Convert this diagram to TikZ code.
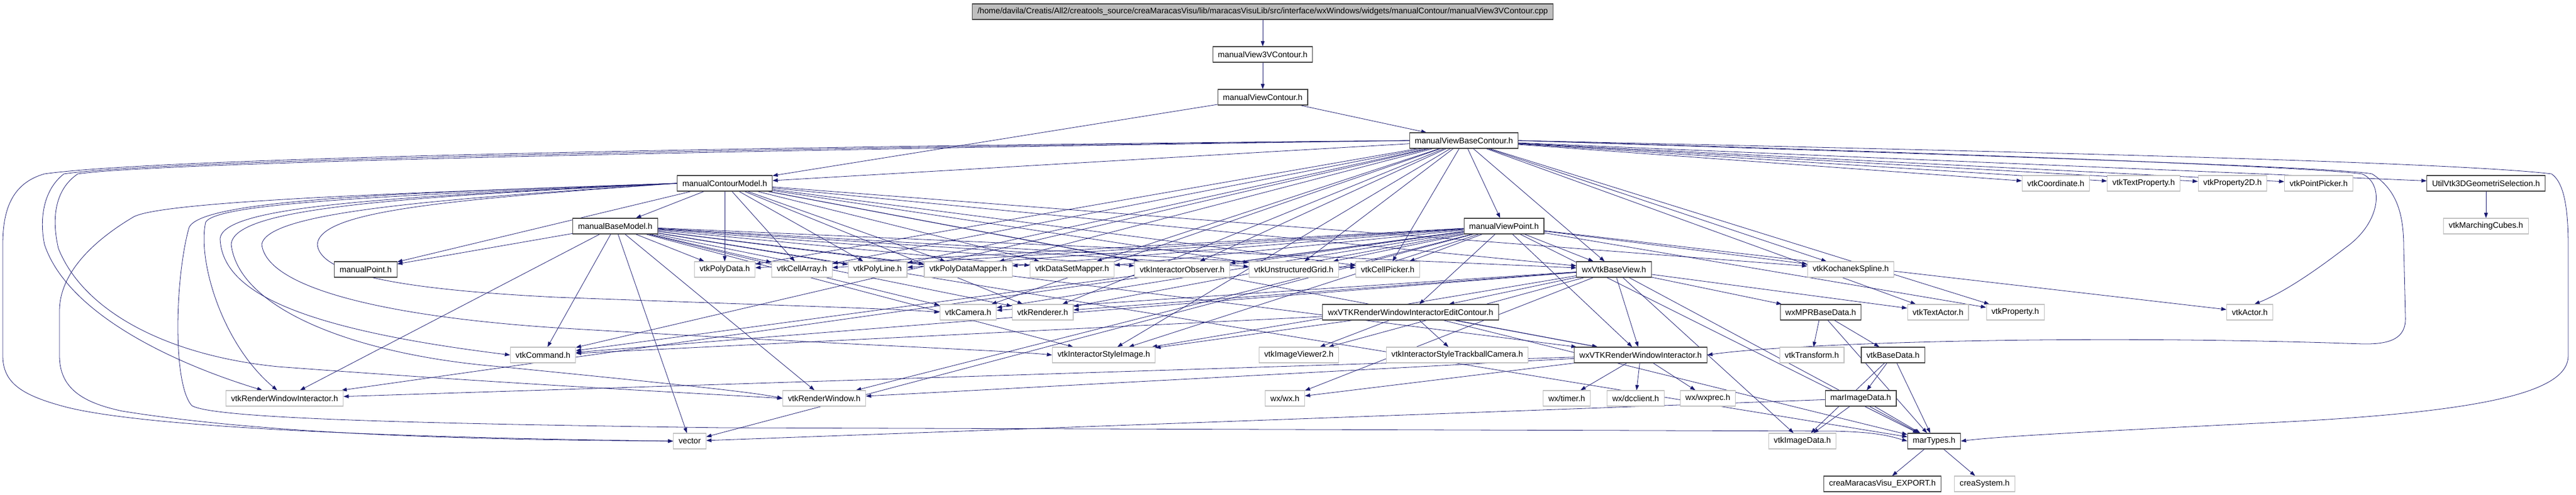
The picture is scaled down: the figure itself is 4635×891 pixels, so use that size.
\documentclass[tikz,border=0pt]{standalone}
\usepackage{fontspec}
\setmainfont{Liberation Sans}
\usetikzlibrary{arrows.meta,backgrounds}
\definecolor{edgeblue}{HTML}{191970}
\definecolor{boxgray}{HTML}{BFBFBF}
\tikzset{
  hdr/.style={draw=black!75, fill=white, line width=0.8pt, minimum height=21pt,
    inner xsep=7pt, inner ysep=0pt, font=\fontsize{11}{13}\selectfont},
  ext/.style={hdr, draw=boxgray},
  src/.style={hdr, fill=boxgray},
  dep/.style={draw=edgeblue, line width=0.6pt, -{Triangle[length=7pt,width=5pt]}},
}
\begin{document}
\begin{tikzpicture}[x=0.75pt,y=-0.75pt]
		\useasboundingbox (0,0) rectangle (4635,891);
		% top of the graph
		\node[src] (cpp) at (2272,21) {/home/davila/Creatis/All2/creatools\_source/creaMaracasVisu/lib/maracasVisuLib/src/interface/wxWindows/widgets/manualContour/manualView3VContour.cpp};
		\node[hdr] (vthree) at (2272,98) {manualView3VContour.h};
		\node[hdr] (vcont) at (2272,175) {manualViewContour.h};
		\node[hdr] (vbase) at (2634,253) {manualViewBaseContour.h};
		% rank 4
		\node[hdr] (cmodel) at (1304,330) {manualContourModel.h};
		\node[ext] (coord) at (3699,330) {vtkCoordinate.h};
		\node[ext] (tprop) at (3857,330) {vtkTextProperty.h};
		\node[ext] (prop2d) at (4017,330) {vtkProperty2D.h};
		\node[ext] (ppicker) at (4172,330) {vtkPointPicker.h};
		\node[hdr] (geosel) at (4473,330) {UtilVtk3DGeometriSelection.h};
		% rank 5
		\node[hdr] (bmodel) at (1107,407) {manualBaseModel.h};
		\node[hdr] (vpoint) at (2706,407) {manualViewPoint.h};
		\node[ext] (mcubes) at (4473,407) {vtkMarchingCubes.h};
		% rank 6
		\node[hdr] (mpoint) at (658,485) {manualPoint.h};
		\node[ext] (polydata) at (1304,485) {vtkPolyData.h};
		\node[ext] (cellarr) at (1443,485) {vtkCellArray.h};
		\node[ext] (polyline) at (1579,485) {vtkPolyLine.h};
		\node[ext] (pdmapper) at (1742,485) {vtkPolyDataMapper.h};
		\node[ext] (dsmapper) at (1929,485) {vtkDataSetMapper.h};
		\node[ext] (iobs) at (2127,485) {vtkInteractorObserver.h};
		\node[ext] (ugrid) at (2328,485) {vtkUnstructuredGrid.h};
		\node[ext] (cpicker) at (2497,485) {vtkCellPicker.h};
		\node[hdr] (baseview) at (2904,485) {wxVtkBaseView.h};
		\node[ext] (kspline) at (3330,485) {vtkKochanekSpline.h};
		% rank 7
		\node[ext] (camera) at (1742,562) {vtkCamera.h};
		\node[ext] (renderer) at (1876,562) {vtkRenderer.h};
		\node[hdr] (editc) at (2538,562) {wxVTKRenderWindowInteractorEditContour.h};
		\node[hdr] (mprbase) at (3276,562) {wxMPRBaseData.h};
		\node[ext] (tactor) at (3487,562) {vtkTextActor.h};
		\node[ext] (vprop) at (3626,562) {vtkProperty.h};
		\node[ext] (actor) at (4048,562) {vtkActor.h};
		% rank 8
		\node[ext] (command) at (977,639) {vtkCommand.h};
		\node[ext] (styleimg) at (1986,639) {vtkInteractorStyleImage.h};
		\node[ext] (viewer) at (2337,639) {vtkImageViewer2.h};
		\node[ext] (trackball) at (2622,639) {vtkInteractorStyleTrackballCamera.h};
		\node[hdr] (wxrwi) at (2952,639) {wxVTKRenderWindowInteractor.h};
		\node[ext] (transform) at (3260,639) {vtkTransform.h};
		\node[hdr] (basedata) at (3406,639) {vtkBaseData.h};
		% rank 9
		\node[ext] (rwi) at (512,717) {vtkRenderWindowInteractor.h};
		\node[ext] (rwin) at (1483,717) {vtkRenderWindow.h};
		\node[ext] (wxh) at (2312,717) {wx/wx.h};
		\node[ext] (timer) at (2819,717) {wx/timer.h};
		\node[ext] (dcclient) at (2943,717) {wx/dcclient.h};
		\node[ext] (wxprec) at (3073,717) {wx/wxprec.h};
		\node[hdr] (marimg) at (3348,717) {marImageData.h};
		% rank 10
		\node[ext] (vector) at (1241,794) {vector};
		\node[ext] (imgdata) at (3243,794) {vtkImageData.h};
		\node[hdr] (martypes) at (3480,794) {marTypes.h};
		% rank 11
		\node[hdr] (export) at (3387,871) {creaMaracasVisu\_EXPORT.h};
		\node[ext] (crsys) at (3571,871) {creaSystem.h};
		
		\begin{scope}[on background layer]
		% include chain
		\draw[dep] (cpp) -- (vthree);
		\draw[dep] (vthree) -- (vcont);
		\draw[dep] (vcont) -- (vbase);
		\draw[dep] (vcont) -- (cmodel);
		\draw[dep] (geosel) -- (mcubes);
		% manualViewBaseContour.h
		\foreach \t in {cmodel,vpoint,coord,tprop,prop2d,ppicker,geosel,baseview,polydata,cellarr,polyline,pdmapper,dsmapper,iobs,ugrid,cpicker,kspline,camera,renderer,styleimg,command,tactor,vprop}
		\draw[dep] (vbase) -- (\t);
		% round the left side
		\draw[dep] (vbase.west) .. controls (1500,262) and (300,282) .. (80,313) .. controls (20,330) and (5,380) .. (5,440) -- (5,640) .. controls (5,690) and (40,712) .. (120,733) .. controls (300,778) and (900,790) .. (vector.west);
		\draw[dep] (vbase.west) .. controls (1500,265) and (300,286) .. (115,313) .. controls (80,340) and (70,390) .. (80,440) .. controls (120,560) and (300,650) .. ([xshift=-30pt]rwi.north);
		\draw[dep] (vbase.west) .. controls (1500,268) and (300,290) .. (140,313) .. controls (100,340) and (92,390) .. (105,447) .. controls (150,560) and (300,640) .. (500,660) .. controls (900,690) and (1200,705) .. (rwin.west);
		% round the right side
		\draw[dep] (vbase.east) .. controls (3500,275) and (4150,300) .. (4250,313) .. controls (4290,330) and (4285,400) .. (4220,446) .. controls (4150,500) and (4100,530) .. (actor.60);
		\draw[dep] (vbase.east) .. controls (3500,278) and (4200,300) .. (4268,313) .. controls (4310,340) and (4325,380) .. (4325,446) -- (4328,570) .. controls (4330,610) and (4300,620) .. (4250,619) .. controls (3700,600) and (3200,620) .. (wxrwi.east);
		\draw[dep] (vbase.east) .. controls (3500,270) and (4400,290) .. (4591,313) .. controls (4615,330) and (4621,380) .. (4621,446) -- (4621,640) .. controls (4621,700) and (4500,740) .. (4100,760) .. controls (3800,775) and (3600,785) .. (martypes.east);
		% manualContourModel.h
		\foreach \t in {bmodel,mpoint,polydata,cellarr,polyline,pdmapper,dsmapper,iobs,ugrid,cpicker,kspline,renderer,wxrwi,baseview}
		\draw[dep] (cmodel) -- (\t);
		\draw[dep] (cmodel.west) .. controls (800,345) and (300,360) .. (241,390) .. controls (190,420) and (107,480) .. (107,560) -- (107,640) .. controls (107,700) and (150,725) .. (220,740) .. controls (500,785) and (900,792) .. (vector.west);
		\draw[dep] (cmodel.west) .. controls (700,352) and (390,365) .. (370,400) .. controls (355,470) and (400,620) .. ([xshift=-10pt]rwi.north);
		\draw[dep] (cmodel.west) .. controls (700,348) and (360,360) .. (340,410) .. controls (315,500) and (310,690) .. (345,730) .. controls (380,752) and (700,762) .. (1300,770) -- (3300,776) .. controls (3380,778) and (3400,785) .. (martypes.west);
		\draw[dep] (cmodel.west) .. controls (700,355) and (400,370) .. (396,430) .. controls (400,520) and (520,590) .. (command.west);
		\draw[dep] (cmodel.west) .. controls (700,356) and (420,375) .. (416,440) .. controls (430,560) and (650,640) .. (900,660) .. controls (1200,690) and (1350,705) .. (rwin.west);
		\draw[dep] (cmodel.west) .. controls (800,358) and (480,380) .. (471,440) .. controls (480,520) and (700,570) .. (1000,590) .. controls (1500,620) and (1800,630) .. (styleimg.west);
		\draw[dep] (cmodel.west) .. controls (800,360) and (575,380) .. (571,440) .. controls (575,490) and (700,520) .. (1000,535) .. controls (1400,550) and (1600,555) .. (camera.west);
		% manualBaseModel.h
		\foreach \t in {mpoint,polydata,cellarr,polyline,pdmapper,dsmapper,iobs,ugrid,cpicker,camera,renderer,styleimg,command,rwi,rwin,wxrwi,vector,martypes,baseview}
		\draw[dep] (bmodel) -- (\t);
		% manualViewPoint.h
		\foreach \t in {polydata,cellarr,polyline,pdmapper,dsmapper,iobs,ugrid,cpicker,kspline,baseview,camera,renderer,styleimg,command,rwi,rwin,wxrwi,editc,actor,vprop,martypes,vector}
		\draw[dep] (vpoint) -- (\t);
		% wxVtkBaseView.h
		\foreach \t in {camera,renderer,styleimg,command,viewer,editc,wxrwi,mprbase,wxh,imgdata,tactor,martypes}
		\draw[dep] (baseview) -- (\t);
		% wxVTKRenderWindowInteractorEditContour.h
		\foreach \t in {styleimg,viewer,trackball,wxrwi,command,martypes}
		\draw[dep] (editc) -- (\t);
		% wxVTKRenderWindowInteractor.h
		\foreach \t in {timer,dcclient,wxprec,wxh,rwi,rwin}
		\draw[dep] (wxrwi) -- (\t);
		% data
		\foreach \t in {transform,basedata,martypes}
		\draw[dep] (mprbase) -- (\t);
		\foreach \t in {marimg,martypes,imgdata}
		\draw[dep] (basedata) -- (\t);
		\foreach \t in {imgdata,martypes,vector}
		\draw[dep] (marimg) -- (\t);
		\foreach \t in {export,crsys}
		\draw[dep] (martypes) -- (\t);
		\end{scope}
\end{tikzpicture}
\end{document}
